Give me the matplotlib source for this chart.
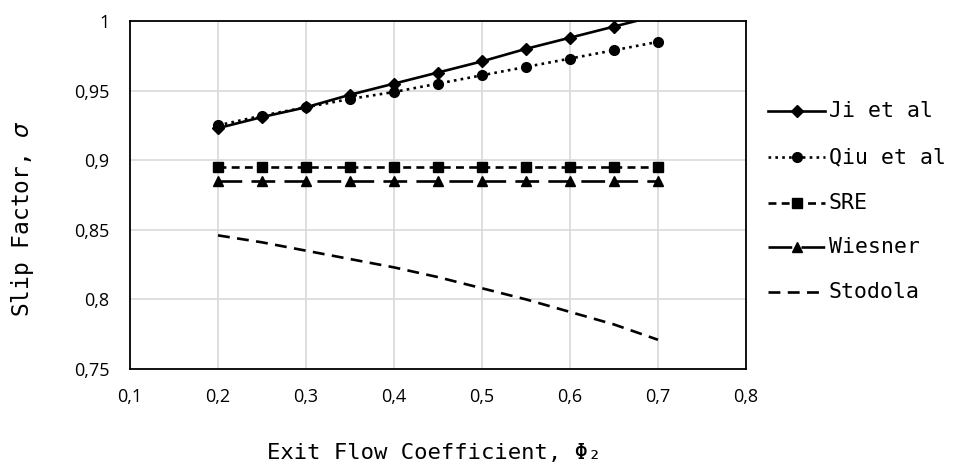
import matplotlib
matplotlib.use("Agg")
import matplotlib.pyplot as plt
from matplotlib.lines import Line2D
from matplotlib.ticker import FuncFormatter

phi = [0.2, 0.25, 0.3, 0.35, 0.4, 0.45, 0.5, 0.55, 0.6, 0.65, 0.7]
ji = [0.923, 0.931, 0.938, 0.947, 0.955, 0.963, 0.971, 0.980, 0.988, 0.996, 1.004]
qiu = [0.925, 0.932, 0.938, 0.944, 0.949, 0.955, 0.961, 0.967, 0.973, 0.979, 0.985]
sre = [0.895] * 11
wiesner = [0.885] * 11
stodola = [0.846, 0.841, 0.835, 0.829, 0.823, 0.816, 0.808, 0.800, 0.791, 0.782, 0.771]
labels = ["Ji et al", "Qiu et al", "SRE", "Wiesner", "Stodola"]

W, H = 955, 465
fig = plt.figure(figsize=(W / 100, H / 100), dpi=100)
ax = fig.add_axes([130 / W, 1 - 369 / H, 616 / W, 348 / H])

lw = 1.9
styles = [
    dict(ls="-", marker="D", ms=6),
    dict(ls=(0, (1, 1.6)), marker="o", ms=7),
    dict(ls=(0, (3, 2)), marker="s", ms=6.5),
    dict(ls=(0, (9, 3.5)), marker="^", ms=7),
    dict(ls=(0, (4.5, 2.8)), marker=None, ms=0),
]
series = [ji, qiu, sre, wiesner, stodola]
for ys, st, lab in zip(series, styles, labels):
    ax.plot(phi, ys, color="black", lw=lw, label=lab, **st)

ax.set_xlim(0.1, 0.8)
ax.set_ylim(0.75, 1.0)
ax.set_xticks([0.1, 0.2, 0.3, 0.4, 0.5, 0.6, 0.7, 0.8])
ax.set_yticks([0.75, 0.8, 0.85, 0.9, 0.95, 1.0])
fmt = FuncFormatter(lambda v, p: ("%g" % round(v, 2)).replace(".", ","))
ax.xaxis.set_major_formatter(fmt)
ax.yaxis.set_major_formatter(fmt)
ax.grid(True, color="#d9d9d9", lw=1.2)
ax.set_axisbelow(True)
ax.tick_params(axis="y", length=0, labelsize=13, pad=15)
ax.tick_params(axis="x", length=0, labelsize=13, pad=14)
for lab in ax.get_xticklabels() + ax.get_yticklabels():
    lab.set_family("Open Sans")
for s in ax.spines.values():
    s.set_linewidth(1.3)
    s.set_color("black")

mono = "DejaVu Sans Mono"
fig.text(434 / W, 1 - 453 / H, "Exit Flow Coefficient, Φ₂", family=mono,
         fontsize=16, ha="center", va="center")
fig.text(23 / W, 1 - 219 / H, "Slip Factor, $\\it{\\sigma}$", family=mono,
         fontsize=16.5, ha="center", va="center", rotation=90)

# legend drawn in figure pixels
row_y = [111, 157, 203, 247, 292]
x0, x1 = 768, 825
for ys_px, st, lab in zip(row_y, styles, labels):
    yy = 1 - ys_px / H
    fig.add_artist(Line2D([x0 / W, x1 / W], [yy, yy], color="black", lw=lw,
                          ls=st["ls"], transform=fig.transFigure))
    if st["marker"]:
        fig.add_artist(Line2D([(x0 + x1) / 2 / W], [yy], color="black",
                              marker=st["marker"], ms=st["ms"], ls="none",
                              transform=fig.transFigure))
    fig.text(829 / W, yy, lab, family=mono, fontsize=15.5, ha="left", va="center")

fig.savefig("out.png", dpi=100)
